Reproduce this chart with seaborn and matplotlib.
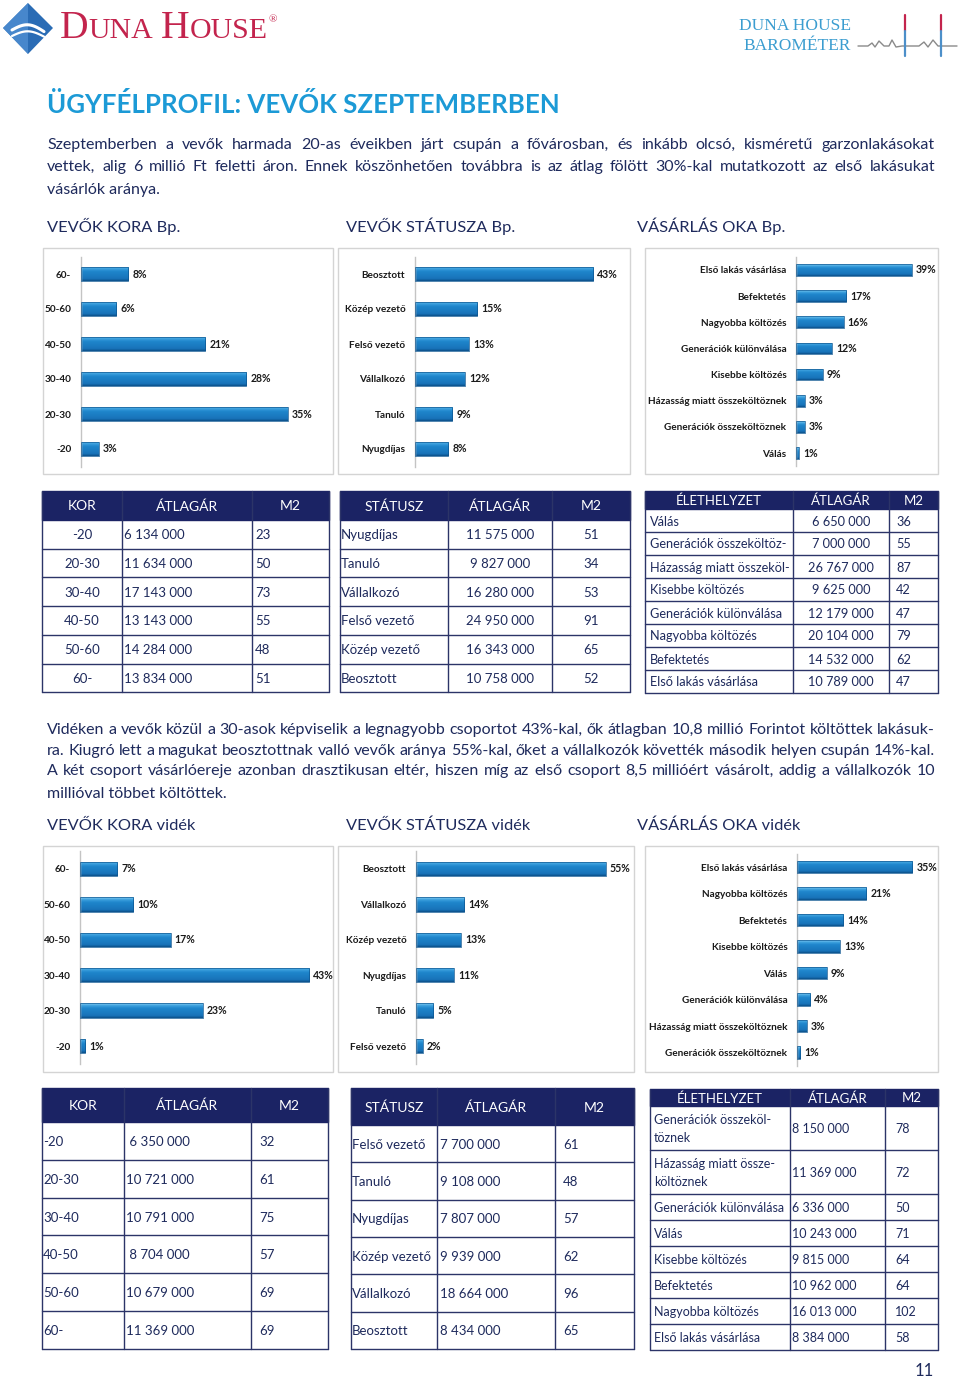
import numpy as np
import matplotlib
matplotlib.use("Agg")
import matplotlib.pyplot as plt
from matplotlib.colors import LinearSegmentedColormap
from matplotlib.patches import Rectangle, Polygon
import seaborn as sns

W, H = 960, 1380

# ---------------- data ----------------
# Budapest bar charts
bp_kor_labels = ["60-", "50-60", "40-50", "30-40", "20-30", "-20"]
bp_kor_values = [8, 6, 21, 28, 35, 3]
bp_status_labels = ["Beosztott", "Közép vezető", "Felső vezető", "Vállalkozó", "Tanuló", "Nyugdíjas"]
bp_status_values = [43, 15, 13, 12, 9, 8]
bp_ok_labels = ["Első lakás vásárlása", "Befektetés", "Nagyobba költözés", "Generációk különválása",
                "Kisebbe költözés", "Házasság miatt összeköltöznek", "Generációk összeköltöznek", "Válás"]
bp_ok_values = [39, 17, 16, 12, 9, 3, 3, 1]

# Budapest tables
bp_t1_kor = ["-20", "20-30", "30-40", "40-50", "50-60", "60-"]
bp_t1_ar = ["6 134 000", "11 634 000", "17 143 000", "13 143 000", "14 284 000", "13 834 000"]
bp_t1_m2 = ["23", "50", "73", "55", "48", "51"]
bp_t2_status = ["Nyugdíjas", "Tanuló", "Vállalkozó", "Felső vezető", "Közép vezető", "Beosztott"]
bp_t2_ar = ["11 575 000", "9 827 000", "16 280 000", "24 950 000", "16 343 000", "10 758 000"]
bp_t2_m2 = ["51", "34", "53", "91", "65", "52"]
bp_t3_elet = ["Válás", "Generációk összeköltöz-", "Házasság miatt összeköl-", "Kisebbe költözés",
              "Generációk különválása", "Nagyobba költözés", "Befektetés", "Első lakás vásárlása"]
bp_t3_ar = ["6 650 000", "7 000 000", "26 767 000", "9 625 000", "12 179 000", "20 104 000",
            "14 532 000", "10 789 000"]
bp_t3_m2 = ["36", "55", "87", "42", "47", "79", "62", "47"]

# Vidék bar charts
v_kor_labels = ["60-", "50-60", "40-50", "30-40", "20-30", "-20"]
v_kor_values = [7, 10, 17, 43, 23, 1]
v_status_labels = ["Beosztott", "Vállalkozó", "Közép vezető", "Nyugdíjas", "Tanuló", "Felső vezető"]
v_status_values = [55, 14, 13, 11, 5, 2]
v_ok_labels = ["Első lakás vásárlása", "Nagyobba költözés", "Befektetés", "Kisebbe költözés", "Válás",
               "Generációk különválása", "Házasság miatt összeköltöznek", "Generációk összeköltöznek"]
v_ok_values = [35, 21, 14, 13, 9, 4, 3, 1]

# Vidék tables
v_t1_kor = ["-20", "20-30", "30-40", "40-50", "50-60", "60-"]
v_t1_ar = [" 6 350 000", "10 721 000", "10 791 000", " 8 704 000", "10 679 000", "11 369 000"]
v_t1_m2 = ["32", "61", "75", "57", "69", "69"]
v_t2_status = ["Felső vezető", "Tanuló", "Nyugdíjas", "Közép vezető", "Vállalkozó", "Beosztott"]
v_t2_ar = ["7 700 000", "9 108 000", "7 807 000", "9 939 000", "18 664 000", "8 434 000"]
v_t2_m2 = ["61", "48", "57", "62", "96", "65"]
v_t3_elet = ["Generációk összeköl-\ntöznek", "Házasság miatt össze-\nköltöznek", "Generációk különválása",
             "Válás", "Kisebbe költözés", "Befektetés", "Nagyobba költözés", "Első lakás vásárlása"]
v_t3_ar = ["8 150 000", "11 369 000", "6 336 000", "10 243 000", "9 815 000", "10 962 000",
           "16 013 000", "8 384 000"]
v_t3_m2 = ["78", "72", "50", "71", "64", "64", "102", "58"]

# texts
title = "ÜGYFÉLPROFIL: VEVŐK SZEPTEMBERBEN"
para1 = ["Szeptemberben a vevők harmada 20-as éveikben járt csupán a fővárosban, és inkább olcsó, kisméretű garzonlakásokat",
         "vettek, alig 6 millió Ft feletti áron. Ennek köszönhetően továbbra is az átlag fölött 30%-kal mutatkozott az első lakásukat",
         "vásárlók aránya."]
para2 = ["Vidéken a vevők közül a 30-asok képviselik a legnagyobb csoportot 43%-kal, ők átlagban 10,8 millió Forintot költöttek lakásuk-",
         "ra. Kiugró lett a magukat beosztottnak valló vevők aránya 55%-kal, őket a vállalkozók követték második helyen csupán 14%-kal.",
         "A két csoport vásárlóereje azonban drasztikusan eltér, hiszen míg az első csoport 8,5 millióért vásárolt, addig a vállalkozók 10",
         "millióval többet költöttek."]
bp_sections = ["VEVŐK KORA Bp.", "VEVŐK STÁTUSZA Bp.", "VÁSÁRLÁS OKA Bp."]
v_sections = ["VEVŐK KORA vidék", "VEVŐK STÁTUSZA vidék", "VÁSÁRLÁS OKA vidék"]

# ---------------- style ----------------
sns.set_style("white")
plt.rcParams["font.family"] = ["Lato", "DejaVu Sans"]

NAVY = "#1e2a5c"
HEAD = "#1b2364"
GRID = "#2c3468"
TITLE_BLUE = "#1c9ad6"
CRIMSON = "#c3244d"
LOGO_BLUE = "#3b9dd0"
bar_cmap = LinearSegmentedColormap.from_list(
    "bar", [(0, "#0b4f88"), (0.15, "#1873b9"), (0.65, "#1f86cc"), (0.85, "#3fa3df"), (1, "#92d4f5")])

fig = plt.figure(figsize=(W / 100, H / 100), dpi=100)
page = fig.add_axes([0, 0, 1, 1])
page.set_xlim(0, W)
page.set_ylim(H, 0)
page.axis("off")
renderer = fig.canvas.get_renderer()


def px_axes(x0, y0, x1, y1):
    return fig.add_axes([x0 / W, 1 - y1 / H, (x1 - x0) / W, (y1 - y0) / H])


def text_width(s, **kw):
    t = page.text(0, 0, s, **kw)
    w = t.get_window_extent(renderer).width
    t.remove()
    return w


def fit_size(s, width, **kw):
    return 20 * width / text_width(s, fontsize=20, **kw)


def para_line(s, y, size, justify=True, x0=47, x1=935):
    if not justify:
        page.text(x0, y, s, fontsize=size, color=NAVY, va="baseline")
        return
    words = s.split(" ")
    widths = [text_width(w, fontsize=size) for w in words]
    gap = (x1 - x0 - sum(widths)) / (len(words) - 1)
    x = x0
    for w, wd in zip(words, widths):
        page.text(x, y, w, fontsize=size, color=NAVY, va="baseline")
        x += wd + gap


def bar_panel(box, axis_x, right_x, top, bottom, scale, labels, values, width=0.42):
    bx0, by0, bx1, by1 = box
    page.add_patch(Rectangle((bx0, by0), bx1 - bx0, by1 - by0, fill=False, ec="#d4d4d4", lw=1))
    ax = px_axes(axis_x, top, right_x, bottom)
    sns.barplot(x=values, y=labels, orient="h", ax=ax, color="#1f86cc", width=width,
                saturation=1, edgecolor="#0c5590", linewidth=0.5)
    xlim = (0, (right_x - axis_x) / scale)
    ylim = (len(labels) - 0.5, -0.5)
    grad = np.linspace(1, 0, 64).reshape(-1, 1)
    for p in ax.patches:
        x0, y0, w, h = p.get_x(), p.get_y(), p.get_width(), p.get_height()
        im = ax.imshow(grad, cmap=bar_cmap, vmin=0, vmax=1, extent=(x0, x0 + w, y0 + h, y0),
                       aspect="auto", interpolation="bilinear", zorder=2)
        im.set_clip_path(p)
        p.set_facecolor("none")
        p.set_zorder(3)
    ax.set_xlim(*xlim)
    ax.set_ylim(*ylim)
    ax.bar_label(ax.containers[0], labels=[f"{v}%" for v in values], padding=3,
                 fontsize=7.6, fontweight="bold", color="#1a1a1a")
    ax.set_xlabel("")
    ax.set_ylabel("")
    ax.set_xticks([])
    ax.tick_params(axis="y", length=0, pad=7)
    for lbl in ax.get_yticklabels():
        lbl.set_fontsize(7.2)
        lbl.set_fontweight("bold")
        lbl.set_color("#1a1a1a")
    for s in ["top", "right", "bottom"]:
        ax.spines[s].set_visible(False)
    ax.spines["left"].set_color("#c4c4c4")
    ax.spines["left"].set_linewidth(1)
    ax.patch.set_alpha(0)
    return ax


def draw_table(x_edges, head_top, head_bot, row_heights, headers, columns, aligns,
               fs_head=10, fs_cell=9.5, linespacing=1.25):
    x0, x1 = x_edges[0], x_edges[-1]
    page.add_patch(Rectangle((x0, head_top), x1 - x0, head_bot - head_top, fc=HEAD, ec=HEAD, lw=1))
    for i, hd in enumerate(headers):
        cx = (x_edges[i] + x_edges[i + 1]) / 2
        page.text(cx, (head_top + head_bot) / 2 + 1, hd, ha="center", va="center",
                  fontsize=fs_head, color="white")
    y_edges = np.concatenate([[head_bot], head_bot + np.cumsum(row_heights)])
    bottom = y_edges[-1]
    for y in y_edges[1:]:
        page.plot([x0, x1], [y, y], color=GRID, lw=1)
    for x in x_edges:
        page.plot([x, x], [head_top, bottom], color=GRID, lw=1)
    for c, col in enumerate(columns):
        for r, val in enumerate(col):
            cy = (y_edges[r] + y_edges[r + 1]) / 2 + 1
            mode, pad = aligns[c]
            if mode == "center":
                page.text((x_edges[c] + x_edges[c + 1]) / 2, cy, val, ha="center", va="center",
                          fontsize=fs_cell, color=NAVY, linespacing=linespacing)
            else:
                page.text(x_edges[c] + pad, cy, val, ha="left", va="center",
                          fontsize=fs_cell, color=NAVY, linespacing=linespacing)


# ---------------- header / logos ----------------
page.add_patch(Polygon([(28, 3), (53, 28), (28, 54), (3, 28)], closed=True, fc="#2a6cb5", ec="none"))
page.add_patch(Polygon([(28, 3), (3, 28), (28, 54)], closed=True, fc="#4f8fd2", ec="none", alpha=0.8))
sw = np.linspace(12, 44, 50)
page.plot(sw, 30 - 6 * np.sin((sw - 12) / 32 * np.pi) + (sw - 12) * 0.05, color="white", lw=2.2)
page.plot(sw, 36 - 5 * np.sin((sw - 12) / 32 * np.pi) + (sw - 12) * 0.02, color="white", lw=1.6)

x = 60
for piece, size in [("D", 28.5), ("UNA", 21.5), (" ", 21.5), ("H", 28.5), ("OUSE", 21.5)]:
    page.text(x, 38, piece, fontsize=size, color=CRIMSON, family="Liberation Serif", va="baseline")
    x += text_width(piece, fontsize=size, family="Liberation Serif")
page.text(x + 1, 22, "®", fontsize=8, color=CRIMSON, family="Liberation Serif", va="baseline")

page.text(851, 30, "DUNA HOUSE", fontsize=12.5, color=LOGO_BLUE, family="Liberation Serif",
          ha="right", va="baseline")
page.text(851, 50, "BAROMÉTER", fontsize=12.5, color=LOGO_BLUE, family="Liberation Serif",
          ha="right", va="baseline")
hb_x = [858, 868, 872, 875, 879, 884, 889, 892, 896, 902, 905, 908, 913, 919, 924, 928, 933, 938, 941, 944, 950, 957]
hb_y = [46, 46, 43, 47, 41, 46, 46, 40, 47, 46, 46, 46, 46, 46, 42, 47, 40, 46, 46, 46, 46, 46]
page.plot(hb_x, hb_y, color="#8a8a8a", lw=1)
for sx in [905, 941]:
    page.plot([sx, sx], [15, 31], color=CRIMSON, lw=1.6)
    page.plot([sx, sx], [31, 56], color="#4c8fc9", lw=1.6)

# ---------------- title and text ----------------
page.text(47, 113, title, fontsize=fit_size(title, 513, fontweight="bold"), fontweight="bold",
          color=TITLE_BLUE, va="baseline")

psize = fit_size("vásárlók aránya.", 116) * 0.97
for i, (line, y) in enumerate(zip(para1, [149, 171, 194])):
    para_line(line, y, psize, justify=i < len(para1) - 1)
for i, (line, y) in enumerate(zip(para2, [734, 755, 775, 798])):
    para_line(line, y, psize, justify=i < len(para2) - 1)

ssize = fit_size(bp_sections[0], 132)
for s, sx in zip(bp_sections, [47, 346, 637]):
    page.text(sx, 232, s, fontsize=ssize, color=NAVY, va="baseline")
for s, sx in zip(v_sections, [47, 346, 637]):
    page.text(sx, 830, s, fontsize=ssize, color=NAVY, va="baseline")

# ---------------- Budapest bar charts ----------------
bar_panel((43, 248, 333, 474), 81, 330, 256.5, 466.5, 5.91, bp_kor_labels, bp_kor_values, 0.41)
bar_panel((338, 248, 630, 474), 415, 627, 256.5, 466.5, 4.14, bp_status_labels, bp_status_values, 0.41)
bar_panel((645, 248, 938, 474), 796, 936, 256.9, 466.1, 2.97, bp_ok_labels, bp_ok_values, 0.45)

# ---------------- Budapest tables ----------------
draw_table([42, 122, 252, 329], 491, 520, [28.7] * 6, ["KOR", "ÁTLAGÁR", "M2"],
           [bp_t1_kor, bp_t1_ar, bp_t1_m2], [("center", 0), ("left", 2), ("left", 3)])
draw_table([340, 448, 552, 630], 491, 520, [28.7] * 6, ["STÁTUSZ", "ÁTLAGÁR", "M2"],
           [bp_t2_status, bp_t2_ar, bp_t2_m2], [("left", 1), ("center", 0), ("center", 0)])
draw_table([645, 793, 889, 938], 491, 509, [23] * 8, ["ÉLETHELYZET", "ÁTLAGÁR", "M2"],
           [bp_t3_elet, bp_t3_ar, bp_t3_m2], [("left", 5), ("center", 0), ("left", 7)],
           fs_head=9.5, fs_cell=9.2)

# ---------------- Vidék bar charts ----------------
bar_panel((43, 846, 333, 1072), 80, 330, 851.3, 1063.7, 5.33, v_kor_labels, v_kor_values, 0.41)
bar_panel((338, 846, 634, 1072), 416, 631, 851.3, 1063.7, 3.45, v_status_labels, v_status_values, 0.41)
bar_panel((645, 846, 938, 1072), 797, 936, 853.8, 1065.8, 3.29, v_ok_labels, v_ok_values, 0.47)

# ---------------- Vidék tables ----------------
draw_table([42, 124, 251, 328], 1088, 1122, [37.8] * 6, ["KOR", "ÁTLAGÁR", "M2"],
           [v_t1_kor, v_t1_ar, v_t1_m2], [("left", 1), ("left", 2), ("left", 8)])
draw_table([351, 437, 555, 634], 1088, 1125, [37.3] * 6, ["STÁTUSZ", "ÁTLAGÁR", "M2"],
           [v_t2_status, v_t2_ar, v_t2_m2], [("left", 1), ("left", 3), ("left", 8)])
v_t3_heights = [26 + 18 * (s.count("\n")) for s in v_t3_elet]
draw_table([650, 790, 885, 938], 1089, 1106, v_t3_heights, ["ÉLETHELYZET", "ÁTLAGÁR", "M2"],
           [v_t3_elet, v_t3_ar, v_t3_m2], [("left", 4), ("left", 2), ("left", 10)],
           fs_head=9.5, fs_cell=9, linespacing=1.6)

page.text(924, 1371, "11", fontsize=12, color=NAVY, ha="center", va="center")

fig.savefig("out.png", dpi=100)
